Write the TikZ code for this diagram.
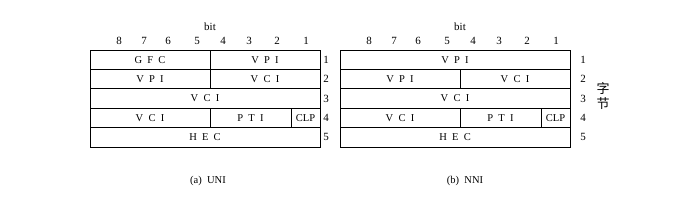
\documentclass[tikz,border=0pt]{standalone}
\usepackage{fontspec}
\setmainfont{Liberation Serif}
\newfontfamily\cjk{Noto Sans CJK SC}
\usepackage{tikz}
\usetikzlibrary{positioning}
\newcommand{\ls}{\hspace{0.5em}}

\begin{document}
\begin{tikzpicture}[x=1pt,y=-1pt,
  cell/.style={rectangle,draw,line width=0.8pt,anchor=north west,minimum height=19.4pt,
               inner sep=0pt,outer sep=0pt,font=\fontsize{10.5}{12}\selectfont},
  num/.style={inner sep=0pt,font=\fontsize{11}{12}\selectfont},
  caption/.style={inner sep=0pt,font=\fontsize{10.5}{12}\selectfont},
  zi/.style={inner sep=0pt,font=\fontsize{13}{14}\selectfont\cjk}]
  \useasboundingbox (0,0) rectangle (690,206);
  % (a) UNI
  \node[cell,minimum width=120pt] (ugfc) at (90,50) {G\ls F\ls C};
  \node[cell,minimum width=110pt] (uvpia) at (210,50) {V\ls P\ls I};
  \node[cell,minimum width=120pt] (uvpib) at (90,69.4) {V\ls P\ls I};
  \node[cell,minimum width=110pt] (uvcia) at (210,69.4) {V\ls C\ls I};
  \node[cell,minimum width=230pt] (uvcib) at (90,88.8) {V\ls C\ls I};
  \node[cell,minimum width=120pt] (uvcic) at (90,108.2) {V\ls C\ls I};
  \node[cell,minimum width=81pt] (upti) at (210,108.2) {P\ls T\ls I};
  \node[cell,minimum width=29pt] (uclp) at (291,108.2) {CLP};
  \node[cell,minimum width=230pt] (uhec) at (90,127.6) {H\ls E\ls C};
  % (b) NNI
  \node[cell,minimum width=230pt] (nvpia) at (340,50) {V\ls P\ls I};
  \node[cell,minimum width=120pt] (nvpib) at (340,69.4) {V\ls P\ls I};
  \node[cell,minimum width=110pt] (nvcia) at (460,69.4) {V\ls C\ls I};
  \node[cell,minimum width=230pt] (nvcib) at (340,88.8) {V\ls C\ls I};
  \node[cell,minimum width=120pt] (nvcic) at (340,108.2) {V\ls C\ls I};
  \node[cell,minimum width=81pt] (npti) at (460,108.2) {P\ls T\ls I};
  \node[cell,minimum width=29pt] (nclp) at (541,108.2) {CLP};
  \node[cell,minimum width=230pt] (nhec) at (340,127.6) {H\ls E\ls C};
  % bit numbers
  \foreach \b/\x in {8/119,7/144,6/168,5/197,4/223,3/249,2/277,1/306}{
    \node[num] (ub\b) at (\x,41) {\b};
    \node[num] (nb\b) at (\x+250,41) {\b};
  }
  \node[num] (ubit) at (210,27) {bit};
  \node[num] (nbit) at (460,27) {bit};
  % byte numbers
  \foreach \r in {1,...,5}{
    \node[num] (ur\r) at (326,40.3+19.4*\r) {\r};
    \node[num] (nr\r) at (583,40.3+19.4*\r) {\r};
  }
  \node[zi] (bytea) at (603,89) {字};
  \node[zi] (byteb) at (603,104) {节};
  % captions
  \node[caption] (capa) at (208,181) {(a)\ \ UNI};
  \node[caption] (capb) at (465,181) {(b)\ \ NNI};
\end{tikzpicture}
\end{document}
